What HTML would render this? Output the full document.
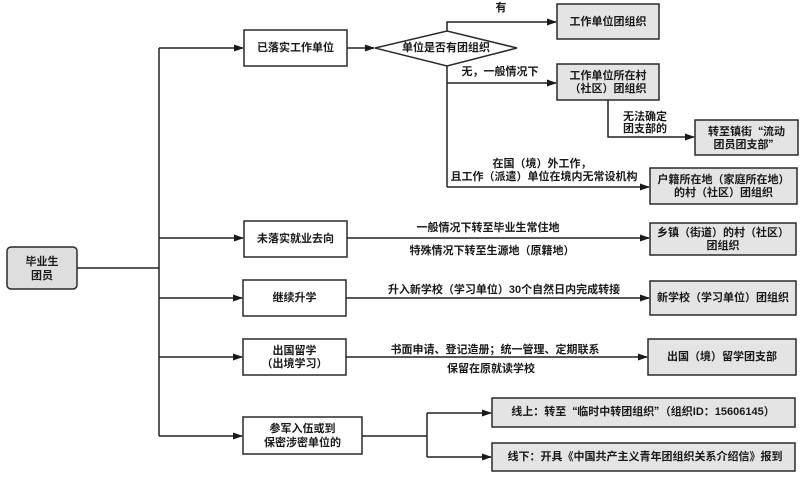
<!DOCTYPE html>
<html>
<head>
<meta charset="utf-8">
<style>
html,body{margin:0;padding:0;background:#fff;}
svg{display:block;}
text{font-family:"Liberation Sans","Noto Sans CJK SC",sans-serif;font-size:11px;font-weight:bold;fill:#1a1a1a;}
.cq{font-family:"Noto Sans CJK SC",sans-serif;}
</style>
</head>
<body>
<svg width="800" height="477" viewBox="0 0 800 477" xmlns="http://www.w3.org/2000/svg">
<defs>
<marker id="ar" markerWidth="10" markerHeight="8" refX="9" refY="4" orient="auto" markerUnits="userSpaceOnUse">
<path d="M0,0.5 L10,4 L0,7.5 Z" fill="#1a1a1a"/>
</marker>
</defs>
<rect width="800" height="477" fill="#fff"/>
<g stroke="#222" stroke-width="1.5" fill="none">
<line x1="77" y1="268" x2="159" y2="268"/>
<line x1="159" y1="48" x2="159" y2="436"/>
<line x1="159" y1="48" x2="243" y2="48" marker-end="url(#ar)"/>
<line x1="159" y1="238" x2="243" y2="238" marker-end="url(#ar)"/>
<line x1="159" y1="298" x2="242" y2="298" marker-end="url(#ar)"/>
<line x1="159" y1="357" x2="242" y2="357" marker-end="url(#ar)"/>
<line x1="159" y1="436" x2="242" y2="436" marker-end="url(#ar)"/>
<line x1="347" y1="48" x2="374" y2="48" marker-end="url(#ar)"/>
<polyline points="447,31 447,22 556,22" marker-end="url(#ar)"/>
<line x1="447" y1="66" x2="447" y2="187"/>
<line x1="447" y1="83" x2="556" y2="83" marker-end="url(#ar)"/>
<line x1="447" y1="187" x2="649" y2="187" marker-end="url(#ar)"/>
<polyline points="608,100 608,137 694,137" marker-end="url(#ar)"/>
<line x1="347" y1="238" x2="649" y2="238" marker-end="url(#ar)"/>
<line x1="346" y1="298" x2="649" y2="298" marker-end="url(#ar)"/>
<line x1="346" y1="357" x2="647" y2="357" marker-end="url(#ar)"/>
<line x1="362" y1="436" x2="427" y2="436"/>
<line x1="427" y1="413" x2="427" y2="457"/>
<line x1="427" y1="413" x2="491" y2="413" marker-end="url(#ar)"/>
<line x1="427" y1="457" x2="491" y2="457" marker-end="url(#ar)"/>
</g>
<g stroke="#2a2a2a" stroke-width="1.5">
<rect x="7" y="247" width="70" height="42" rx="4" fill="#dedede"/>
<rect x="244" y="30" width="103" height="36" fill="#fff"/>
<rect x="244" y="221" width="103" height="36" fill="#fff"/>
<rect x="243" y="280" width="103" height="36" fill="#fff"/>
<rect x="243" y="339" width="103" height="36" fill="#fff"/>
<rect x="243" y="417" width="119" height="37" fill="#fff"/>
<polygon points="375,48 447,31 517,48 447,66" fill="#fff"/>
<rect x="557" y="4" width="102" height="35" fill="#e4e4e4"/>
<rect x="557" y="64" width="102" height="36" fill="#e4e4e4"/>
<rect x="695" y="120" width="103" height="35" fill="#e4e4e4"/>
<rect x="650" y="168" width="147" height="36" fill="#e4e4e4"/>
<rect x="650" y="223" width="146" height="32" fill="#e4e4e4"/>
<rect x="650" y="281" width="146" height="34" fill="#e4e4e4"/>
<rect x="648" y="339" width="148" height="36" fill="#e4e4e4"/>
<rect x="492" y="398" width="303" height="29" fill="#e4e4e4"/>
<rect x="492" y="443" width="303" height="28" fill="#e4e4e4"/>
</g>
<g text-anchor="middle" dominant-baseline="central">
<text x="42" y="262">毕业生</text>
<text x="42" y="276">团员</text>
<text x="295.5" y="48">已落实工作单位</text>
<text x="295.5" y="239">未落实就业去向</text>
<text x="294.5" y="298">继续升学</text>
<text x="294.5" y="351">出国留学</text>
<text x="294.5" y="364">（出境学习）</text>
<text x="302.5" y="429">参军入伍或到</text>
<text x="302.5" y="443">保密涉密单位的</text>
<text x="446" y="48">单位是否有团组织</text>
<text x="608" y="22">工作单位团组织</text>
<text x="608" y="76">工作单位所在村</text>
<text x="608" y="89">（社区）团组织</text>
<text x="746.5" y="132">转至镇街<tspan class="cq">“</tspan>流动</text>
<text x="746.5" y="145">团员团支部<tspan class="cq">”</tspan></text>
<text x="723.5" y="180">户籍所在地（家庭所在地）</text>
<text x="723.5" y="193">的村（社区）团组织</text>
<text x="723" y="233">乡镇（街道）的村（社区）</text>
<text x="723" y="246">团组织</text>
<text x="723" y="298">新学校（学习单位）团组织</text>
<text x="722" y="357">出国（境）留学团支部</text>
<text x="643" y="412">线上：转至<tspan class="cq">“</tspan>临时中转团组织<tspan class="cq">”</tspan>（组织ID：15606145）</text>
<text x="645" y="457">线下：开具《中国共产主义青年团组织关系介绍信》报到</text>
</g>
<g text-anchor="middle" dominant-baseline="central">
<text x="501" y="8">有</text>
<text x="500" y="72">无，一般情况下</text>
<text x="645" y="117">无法确定</text>
<text x="645" y="129">团支部的</text>
<text x="542" y="164">在国（境）外工作，</text>
<text x="544" y="177">且工作（派遣）单位在境内无常设机构</text>
<text x="488" y="228">一般情况下转至毕业生常住地</text>
<text x="492" y="251">特殊情况下转至生源地（原籍地）</text>
<text x="504" y="290">升入新学校（学习单位）30个自然日内完成转接</text>
<text x="495" y="350">书面申请、登记造册；统一管理、定期联系</text>
<text x="491" y="369">保留在原就读学校</text>
</g>
</svg>
</body>
</html>
